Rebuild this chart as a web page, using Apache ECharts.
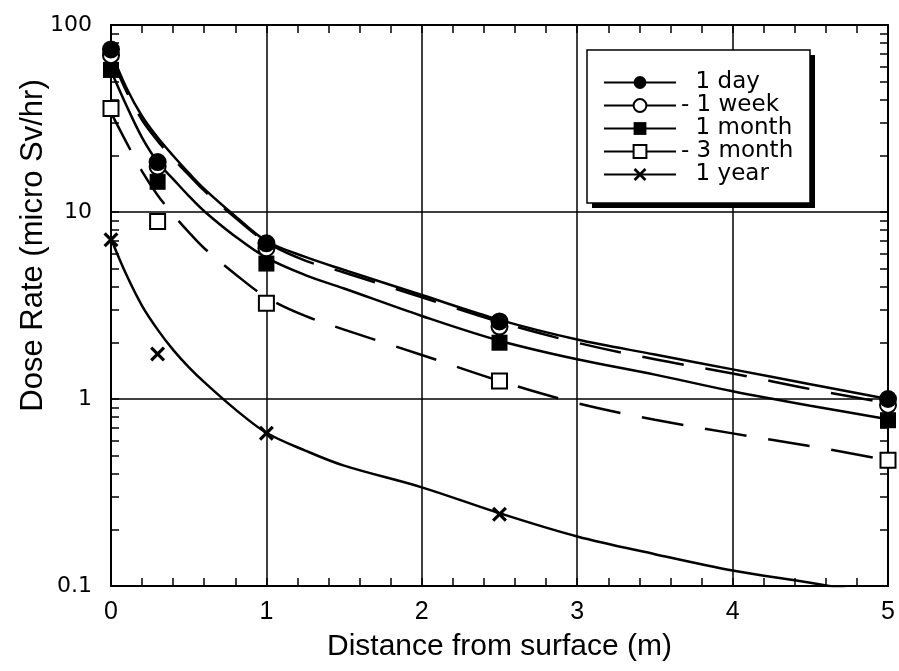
<!DOCTYPE html>
<html>
<head>
<meta charset="utf-8">
<script src="https://cdn.jsdelivr.net/npm/echarts@6/dist/echarts.min.js"></script>
<style>
  html, body { margin: 0; padding: 0; background: #fff; }
  #chart { width: 899px; height: 671px; }
</style>
</head>
<body>
<div id="chart"></div>
<script>
// Measured dose rates at each distance (micro Sv/hr)
const markDist = [0, 0.3, 1, 2.5, 5];
const dayMarks = [74, 18.5, 6.8, 2.6, 1.0];
const weekMarks = [69, 17.5, 6.4, 2.44, 0.93];
const monthMarks = [57.5, 14.5, 5.3, 2.0, 0.77];
const month3Marks = [35.8, 8.9, 3.25, 1.25, 0.47];
const yearMarks = [7.1, 1.74, 0.655, 0.242, null];

// Fitted decay curves
const fitDist = [0, 0.1, 0.2, 0.3, 0.4, 0.5, 0.6, 0.8, 1, 1.25, 1.5, 2, 2.5, 3, 3.5, 4, 4.5, 5];
const dayFit = [72, 46, 32.5, 25, 20, 16.2, 13.3, 9.5, 7.0, 5.75, 4.9, 3.6, 2.65, 2.08, 1.73, 1.44, 1.2, 1.0];
const weekFit = [68, 44, 31, 24, 19.3, 15.8, 13, 9.3, 6.9, 5.5, 4.75, 3.5, 2.58, 2.0, 1.63, 1.37, 1.13, 0.95];
const monthFit = [57, 37, 25, 18.5, 15, 12.2, 10.1, 7.4, 5.7, 4.6, 3.9, 2.78, 2.05, 1.63, 1.35, 1.1, 0.92, 0.78];
const month3Fit = [34, 23.5, 16.5, 12.3, 9.7, 7.8, 6.4, 4.65, 3.5, 2.78, 2.35, 1.72, 1.25, 0.95, 0.775, 0.655, 0.56, 0.47];
const yearFit = [7.2, 4.6, 3.15, 2.35, 1.83, 1.48, 1.23, 0.88, 0.66, 0.53, 0.44, 0.337, 0.245, 0.184, 0.148, 0.121, 0.104, 0.088];

// Legend labels, in legend order
const seriesNames = ['1 day', '- 1 week', '1 month', '- 3 month', '1 year'];

// Axis ranges and tick steps
const xRange = [0, 5];
const xMinorStep = 0.2;
const yRange = [0.1, 100];

const black = '#000';
const dash = [42, 22];

// X-shaped marker drawn as a filled outline
const crossPath = 'path://M3,0L10,7L17,0L20,3L13,10L20,17L17,20L10,13L3,20L0,17L7,10L0,3Z';

function pairs(xs, ys) {
  return xs.map((x, i) => [x, ys[i] == null ? '-' : ys[i]]);
}

// Minor tick positions: every 0.2 m along x, and 1..9 per decade along y (in exponent units)
const xTickVals = [];
for (let v = xRange[0]; v <= xRange[1] + 1e-9; v += xMinorStep) xTickVals.push(+v.toFixed(3));
const yTickExp = [];
for (let e = -1; e < 2; e++) {
  for (let k = 1; k <= 9; k++) yTickExp.push(Math.log10(k * Math.pow(10, e)));
}
yTickExp.push(2);

function fitSeries(name, values, dashed) {
  return {
    name: name,
    type: 'line',
    data: pairs(fitDist, values),
    showSymbol: false,
    symbol: 'none',
    smooth: 0.35,
    lineStyle: { color: black, width: 2.5, type: dashed ? dash : 'solid' },
    emphasis: { disabled: true },
    silent: true,
    z: 3
  };
}

function markSeries(name, values, symbol, size, empty) {
  return {
    name: name,
    type: 'line',
    data: pairs(markDist, values),
    symbol: symbol,
    symbolSize: size,
    showSymbol: true,
    showAllSymbol: true,
    clip: false,
    lineStyle: { width: 0, opacity: 0, color: black },
    itemStyle: empty
      ? { color: black, borderColor: black, borderWidth: 2 }
      : { color: black, borderWidth: 0 },
    emphasis: { disabled: true },
    silent: true,
    z: 4
  };
}

const tickLine = { color: black, width: 1.5 };
const frameLine = { show: true, onZero: false, lineStyle: { color: black, width: 2 } };

// Axes that only carry the inward tick marks around the frame
function xTickAxis(position) {
  return {
    type: 'value',
    min: xRange[0], max: xRange[1], interval: 1,
    position: position,
    axisLine: frameLine,
    axisTick: { show: true, inside: true, length: 8, customValues: xTickVals, lineStyle: tickLine },
    axisLabel: { show: false },
    splitLine: { show: false }
  };
}
function yTickAxis(position) {
  return {
    type: 'value',
    min: -1, max: 2,
    position: position,
    axisLine: frameLine,
    axisTick: { show: true, inside: true, length: 8, customValues: yTickExp, lineStyle: tickLine },
    axisLabel: { show: false },
    splitLine: { show: false }
  };
}

const chart = echarts.init(document.getElementById('chart'), null, { renderer: 'canvas' });

chart.setOption({
  animation: false,
  backgroundColor: '#fff',
  grid: { left: 111, right: 11, top: 25, bottom: 85, containLabel: false, outerBoundsMode: 'none' },
  // Legend frame with its solid drop shadow
  graphic: [
    { type: 'rect', z: 5, silent: true, shape: { x: 592, y: 55, width: 223, height: 153 }, style: { fill: black } },
    { type: 'rect', z: 5, silent: true, shape: { x: 587, y: 50, width: 223, height: 153 }, style: { fill: '#fff', stroke: black, lineWidth: 1.5 } }
  ],
  legend: {
    orient: 'vertical',
    left: 603,
    top: 71,
    z: 6,
    data: seriesNames,
    formatter: n => (n.charAt(0) === '-' ? n : '  ' + n),
    itemWidth: 72,
    itemHeight: 16,
    itemGap: 0,
    padding: 0,
    selectedMode: false,
    textStyle: { fontFamily: 'DejaVu Sans', fontSize: 23, lineHeight: 23, color: black },
    lineStyle: { color: black, width: 2, type: 'solid', opacity: 1 }
  },
  xAxis: [
    {
      type: 'value',
      min: xRange[0], max: xRange[1], interval: 1,
      position: 'bottom',
      name: 'Distance from surface (m)',
      nameLocation: 'middle',
      nameGap: 46,
      nameMoveOverlap: false,
      nameTextStyle: { fontFamily: 'Liberation Sans', fontSize: 30, color: black },
      axisLine: frameLine,
      axisTick: { show: false },
      axisLabel: { fontFamily: 'Liberation Sans', fontSize: 25, color: black, margin: 14 },
      splitLine: { show: true, lineStyle: { color: black, width: 1.5 } }
    },
    xTickAxis('top'),
    xTickAxis('bottom')
  ],
  yAxis: [
    {
      type: 'log',
      logBase: 10,
      min: yRange[0], max: yRange[1],
      position: 'left',
      name: 'Dose Rate (micro Sv/hr)',
      nameLocation: 'middle',
      nameGap: 62,
      nameMoveOverlap: false,
      nameTextStyle: { fontFamily: 'Liberation Sans', fontSize: 31, color: black, padding: [0, 0, 0, 120] },
      axisLine: frameLine,
      axisTick: { show: false },
      axisLabel: { fontFamily: 'DejaVu Sans', fontSize: 22, color: black, margin: 19 },
      splitLine: { show: true, lineStyle: { color: black, width: 1.5 } }
    },
    yTickAxis('left'),
    yTickAxis('right')
  ],
  series: [
    fitSeries('fit 1 day', dayFit, false),
    fitSeries('fit 1 week', weekFit, true),
    fitSeries('fit 1 month', monthFit, false),
    fitSeries('fit 3 month', month3Fit, true),
    fitSeries('fit 1 year', yearFit, false),
    markSeries('- 3 month', month3Marks, 'emptyRect', 15, true),
    markSeries('1 year', yearMarks, crossPath, 15, false),
    markSeries('1 month', monthMarks, 'rect', 16, false),
    markSeries('- 1 week', weekMarks, 'emptyCircle', 16, true),
    markSeries('1 day', dayMarks, 'circle', 18, false)
  ]
});
</script>
</body>
</html>
